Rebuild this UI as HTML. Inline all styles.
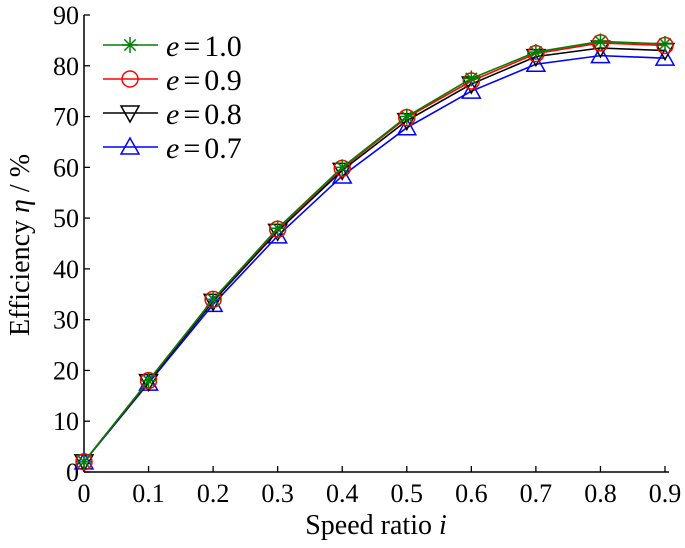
<!DOCTYPE html>
<html><head><meta charset="utf-8"><style>
body{margin:0;background:#fff}
svg{display:block;font-family:"Liberation Serif",serif}
</style></head><body>
<svg id="c" width="685" height="548" viewBox="0 0 685 548" xmlns="http://www.w3.org/2000/svg"></svg>
<script>
const xCats=[0,0.1,0.2,0.3,0.4,0.5,0.6,0.7,0.8,0.9];
const xTickLabels=["0","0.1","0.2","0.3","0.4","0.5","0.6","0.7","0.8","0.9"];
const yTicks=[0,10,20,30,40,50,60,70,80,90];
const seriesE10=[2,18,34,48,60,70,77.5,82.7,84.8,84.3];
const seriesE09=[2,18,34,47.8,59.8,69.8,77,82.4,84.5,84];
const seriesE08=[2,17.8,33.6,47.4,59.4,69.2,76.4,81.8,83.5,83];
const seriesE07=[2,17.5,33,46.5,58.3,67.8,75,80.3,82,81.5];
const labels=["1.0","0.9","0.8","0.7"];
const NS="http://www.w3.org/2000/svg";
const svg=document.getElementById('c');
const X0=84,X1=665,Y0=472,Y1=15;
const sx=v=>X0+(v-0)/(0.9)*(X1-X0);
const sy=v=>Y0-(v/90)*(Y0-Y1);
function mk(t,a,p){const e=document.createElementNS(NS,t);for(const k in a)e.setAttribute(k,a[k]);(p||svg).appendChild(e);return e;}
let ax=mk('line',{x1:X0,y1:Y0,x2:669,y2:Y0,stroke:'#000','stroke-width':1.5});


let ay=mk('line',{x1:X0,y1:Y0,x2:X0,y2:Y1,stroke:'#000','stroke-width':1.5});


xCats.forEach((v,i)=>{
  mk('line',{x1:sx(v),y1:Y0,x2:sx(v),y2:Y0-6,stroke:'#000','stroke-width':1.3});
  const t=mk('text',{x:sx(v),y:502,'font-size':26,'text-anchor':'middle'});t.textContent=xTickLabels[i];
  
  
});
yTicks.forEach(v=>{
  mk('line',{x1:X0,y1:sy(v),x2:X0+6,y2:sy(v),stroke:'#000','stroke-width':1.3});
  const t=mk('text',{x:X0-5,y:sy(v)+9,'font-size':26,'text-anchor':'end'});t.textContent=String(v);
  
  
});
const xt=mk('text',{x:376,y:534,'font-size':28,'text-anchor':'middle'});
xt.innerHTML='Speed ratio <tspan font-style="italic">i</tspan>';


const yt=mk('text',{x:0,y:0,'font-size':28,'text-anchor':'middle',transform:'translate(29,245) rotate(-90)'});
yt.innerHTML='Efficiency <tspan font-style="italic">η</tspan> / %';


function marker(g,type,x,y,c){
  if(type==='star'){for(let a=0;a<4;a++){const an=a*Math.PI/4;mk('line',{x1:x-8*Math.cos(an),y1:y-8*Math.sin(an),x2:x+8*Math.cos(an),y2:y+8*Math.sin(an),stroke:c,'stroke-width':1.5},g);}}
  else if(type==='circle')mk('circle',{cx:x,cy:y,r:8,fill:'none',stroke:c,'stroke-width':1.5},g);
  else if(type==='down')mk('polygon',{points:`${x-9},${y-7} ${x+9},${y-7} ${x},${y+9}`,fill:'none',stroke:c,'stroke-width':1.5},g);
  else mk('polygon',{points:`${x-9},${y+7} ${x+9},${y+7} ${x},${y-9}`,fill:'none',stroke:c,'stroke-width':1.5},g);
}
const all=[[seriesE07,'#0000ff','up','e-0.7'],[seriesE08,'#000','down','e-0.8'],[seriesE09,'#ff0000','circle','e-0.9'],[seriesE10,'#008000','star','e-1.0']];
all.forEach(s=>{
  const g=mk('g',{});
  
  
  mk('polyline',{points:s[0].map((v,i)=>sx(xCats[i])+','+sy(v)).join(' '),fill:'none',stroke:s[1],'stroke-width':1.6},g);
  s[0].forEach((v,i)=>marker(g,s[2],sx(xCats[i]),sy(v),s[1]));
});
const leg=[['#008000','star'],['#ff0000','circle'],['#000','down'],['#0000ff','up']];
leg.forEach((l,i)=>{
  const y=45+i*34;
  const g=mk('g',{});
  
  
  mk('line',{x1:103,y1:y,x2:158,y2:y,stroke:l[0],'stroke-width':1.6},g);
  marker(g,l[1],130,y,l[0]);
  const t=mk('text',{x:166,y:y+11,'font-size':30},g);
  t.innerHTML='<tspan font-style="italic">e</tspan><tspan dx="4">=</tspan><tspan dx="4">'+labels[i]+'</tspan>';
});
</script>
</body></html>
